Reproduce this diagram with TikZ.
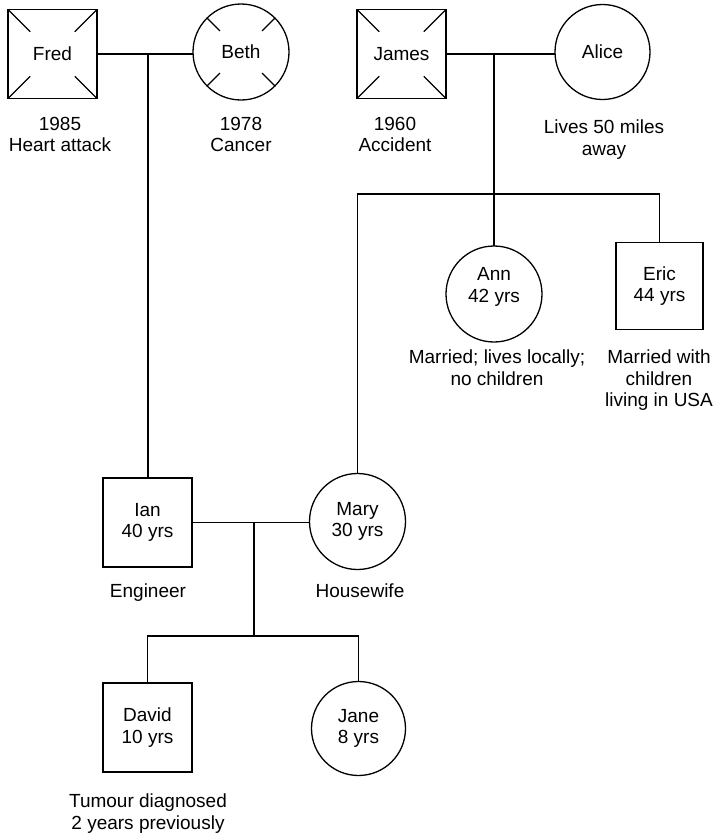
\documentclass[tikz,border=0pt]{standalone}
\usepackage{fontspec}
\setmainfont{Liberation Sans}
\usetikzlibrary{calc}
\begin{document}
\begin{tikzpicture}[x=1pt,y=-1pt,
  every node/.style={font=\fontsize{19}{21.5}\selectfont},
  sq/.style={draw,rectangle,minimum size=89pt,inner sep=0pt,outer sep=0pt,align=center,line width=1.3pt},
  ci/.style={draw,circle,minimum size=96pt,inner sep=0pt,outer sep=0pt,align=center,line width=1.3pt},
  lab/.style={anchor=north,inner sep=0pt,align=center},
  ln/.style={line width=1.3pt}]
\useasboundingbox (0,0) rectangle (715,833);

% people
\node[sq] (Fred) at (52.5,54) {Fred};
\node[ci] (Beth) at (241,52) {Beth};
\node[sq] (James) at (401.5,54) {James};
\node[ci,minimum size=95pt] (Alice) at (602.5,52) {Alice};
\node[ci] (Ann) at (494,294) {};
\node[inner sep=0pt,align=center] (AnnT) at (494,287) {Ann\\42 yrs};
\node[sq,minimum size=87pt] (Eric) at (659.5,286) {Eric\\44 yrs};
\node[sq] (Ian) at (147.5,522.5) {Ian\\40 yrs};
\node[ci] (Mary) at (357.5,521.5) {Mary\\30 yrs};
\node[sq] (David) at (147.5,727.5) {David\\10 yrs};
\node[ci,minimum size=94pt] (Jane) at (358.5,728.5) {Jane\\8 yrs};

% deceased marks
\foreach \n in {Fred,James}{
  \foreach \a in {north west,north east,south west,south east}
    \draw[ln] (\n.\a) -- ($(\n.center)!0.5!(\n.\a)$);
}
\foreach \a in {north west,north east,south west,south east}
  \draw[ln] (Beth.\a) -- ($(Beth.center)!0.62!(Beth.\a)$);

% labels
\node[lab] (FredL) at (60,117) {1985\\Heart attack};
\node[lab] (BethL) at (241,117) {1978\\Cancer};
\node[lab] (JamesL) at (395,117) {1960\\Accident};
\node[lab] (AliceL) at (604,120) {Lives 50 miles\\away};
\node[lab] (AnnL) at (497,350) {Married; lives locally;\\no children};
\node[lab] (EricL) at (659,350) {Married with\\children\\living in USA};
\node[lab] (IanL) at (148,584) {Engineer};
\node[lab] (MaryL) at (360,584) {Housewife};
\node[lab] (DavidL) at (148,794) {Tumour diagnosed\\2 years previously};

% connectors
\coordinate (FB) at (148,54);
\draw[ln] (Fred.east) -- (Fred.east -| Beth.west);
\draw[ln] (FB) -- (FB |- Ian.north);

\coordinate (JA) at (494,54);
\coordinate (Sib) at (494,194);
\draw[ln] (James.east) -- (James.east -| Alice.west);
\draw[ln] (JA) -- (Ann.north);
\draw[ln] (Mary.north) -- (Mary.north |- Sib) -- (Eric.north |- Sib) -- (Eric.north);

\coordinate (IM) at (254,522.5);
\coordinate (Kids) at (254,636);
\draw[ln] (Ian.east) -- (Ian.east -| Mary.west);
\draw[ln] (IM) -- (Kids);
\draw[ln] (David.north) |- (Kids) -| (Jane.north);
\end{tikzpicture}
\end{document}
